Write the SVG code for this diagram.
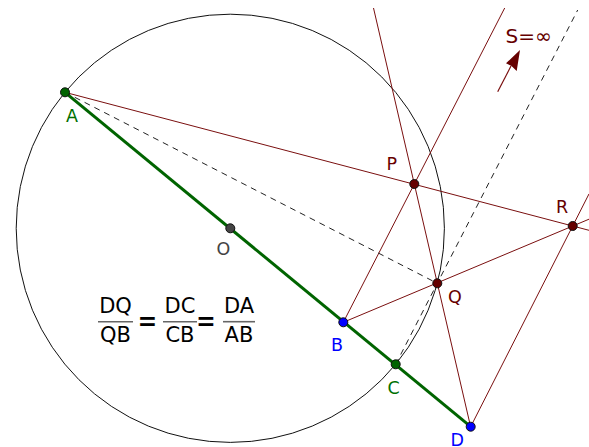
<svg xmlns="http://www.w3.org/2000/svg" width="589" height="447" viewBox="0 0 589 447">
<style>
text{font-family:"DejaVu Sans","Liberation Sans",sans-serif}
.lbl{font-size:17.5px}
.red{stroke:#7a0f0f;stroke-width:1;fill:none}
.dash{stroke:#222;stroke-width:1;stroke-dasharray:6,5;fill:none}
.pt{stroke:#111;stroke-width:1}
.frac{font-size:21px;fill:#000;text-anchor:middle}
.eq{font-size:22px;fill:#000;stroke:#000;stroke-width:0.15;text-anchor:middle}
.bar{stroke:#666;stroke-width:1.6}
</style>
<rect width="589" height="447" fill="#fff"/>
<circle id="circle" cx="230.3" cy="228.3" r="214.1" fill="none" stroke="#111" stroke-width="1"/>
<g id="connectors">
<line class="red" x1="65" y1="92.3" x2="589" y2="230.3"/>
<line class="red" x1="343.3" y1="322.3" x2="589" y2="219.2"/>
<line class="red" x1="373.5" y1="8" x2="470.6" y2="426.7"/>
<line class="red" x1="343.3" y1="322.3" x2="504.7" y2="8"/>
<line class="red" x1="470.7" y1="426.7" x2="589" y2="193.9"/>
<line class="dash" x1="65" y1="92.3" x2="437.3" y2="283.3"/>
<line class="dash" x1="395.7" y1="364.3" x2="577.7" y2="10"/>
<line x1="65" y1="92.3" x2="470.7" y2="426.7" stroke="#006400" stroke-width="3"/>
</g>
<g id="arrowS">
<line x1="497.7" y1="91.7" x2="511" y2="66" stroke="#7a0f0f" stroke-width="1.2"/>
<polygon points="520,50 516.7,71 511.5,66 506,63.3" fill="#660000"/>
<text x="505.5" y="43.3" font-size="20" fill="#660000">S=∞</text>
</g>
<g id="A"><circle class="pt" cx="65" cy="92.3" r="4.5" fill="#006400"/><text class="lbl" x="66" y="121.5" fill="#007000">A</text></g>
<g id="O"><circle class="pt" cx="230.3" cy="228.3" r="4.5" fill="#444"/><text class="lbl" x="216.5" y="255" fill="#444">O</text></g>
<g id="B"><circle class="pt" cx="343.3" cy="322.3" r="4.5" fill="#0000ff"/><text class="lbl" x="331" y="351" fill="#0000ff">B</text></g>
<g id="C"><circle class="pt" cx="395.7" cy="364.3" r="4.5" fill="#006400"/><text class="lbl" x="387.5" y="394" fill="#007000">C</text></g>
<g id="D"><circle class="pt" cx="470.7" cy="426.7" r="4.5" fill="#0000ff"/><text class="lbl" x="450.5" y="445.5" fill="#0000ff">D</text></g>
<g id="P"><circle class="pt" cx="414.3" cy="184" r="4.5" fill="#660000"/><text class="lbl" x="386.5" y="170" fill="#660000">P</text></g>
<g id="Q"><circle class="pt" cx="437.3" cy="283.3" r="4.5" fill="#660000"/><text class="lbl" x="448" y="303" fill="#660000">Q</text></g>
<g id="R"><circle class="pt" cx="572.7" cy="226" r="4.5" fill="#660000"/><text class="lbl" x="556" y="212.5" fill="#660000">R</text></g>
<g id="formula">
<text class="frac" x="115.5" y="313">DQ</text>
<line class="bar" x1="98" y1="321.7" x2="133" y2="321.7"/>
<text class="frac" x="115.5" y="342">QB</text>
<text class="eq" transform="translate(147.5,332) scale(1.05,1.45)">=</text>
<text class="frac" x="180" y="313">DC</text>
<line class="bar" x1="163" y1="321.7" x2="197" y2="321.7"/>
<text class="frac" x="180" y="342">CB</text>
<text class="eq" transform="translate(205.8,332) scale(1.05,1.45)">=</text>
<text class="frac" x="239" y="313">DA</text>
<line class="bar" x1="223" y1="321.7" x2="255" y2="321.7"/>
<text class="frac" x="239" y="342">AB</text>
</g>
</svg>
